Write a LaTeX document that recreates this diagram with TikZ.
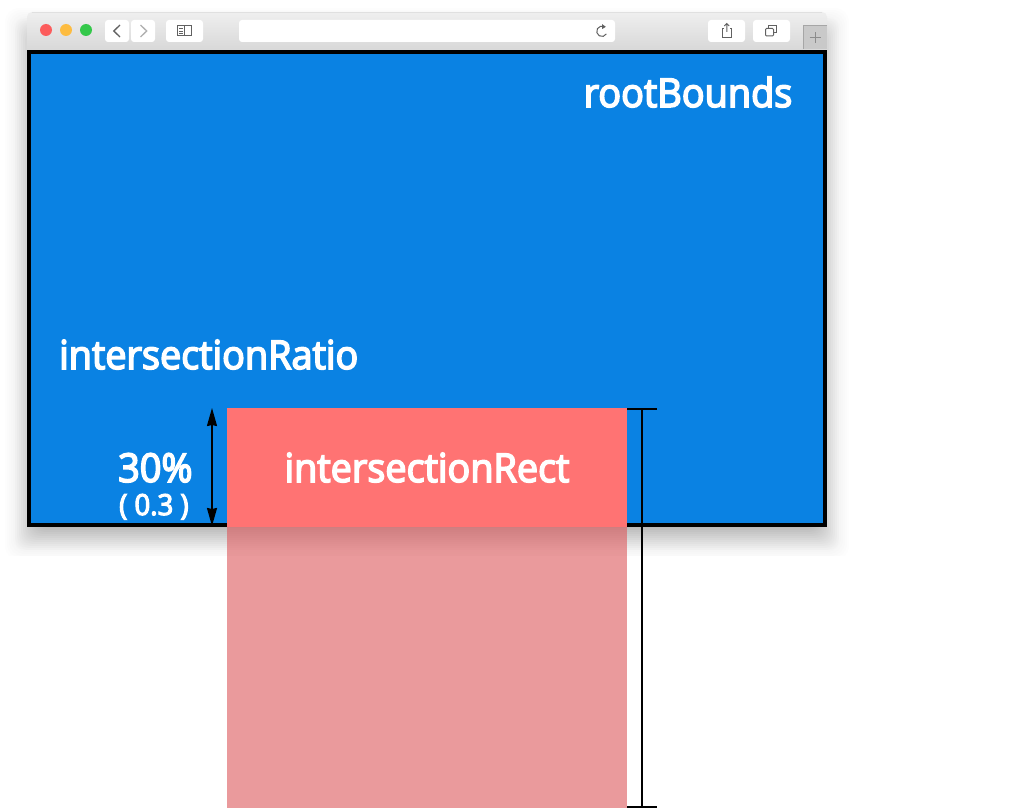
\documentclass[tikz,border=0pt]{standalone}
\usepackage{fontspec}
\newfontfamily\lab{Open Sans}[FakeBold=4,FakeStretch=0.95]
\usetikzlibrary{arrows.meta}
\definecolor{blue0}{HTML}{0A82E3}
\definecolor{redtop}{HTML}{FF7373}
\definecolor{pinklow}{HTML}{DC575A}
\definecolor{barT}{HTML}{EFEFEF}
\definecolor{barB}{HTML}{D2D2D2}
\definecolor{icon}{HTML}{616161}
\definecolor{lightred}{HTML}{FC5C5C}
\definecolor{lightyel}{HTML}{FDBC40}
\definecolor{lightgrn}{HTML}{34C84A}
\definecolor{plusbg}{HTML}{C9C9C9}
\tikzset{
  btn/.style={fill=white,draw=none,rounded corners=3pt},
  ico/.style={draw=icon,line width=1pt,fill=none},
  icol/.style={draw=icon!50,line width=1pt,fill=none},
  dot/.style={circle,minimum size=12pt,inner sep=0pt,draw=none,fill=#1},
  lbl/.style={text=white,inner sep=0pt,font=\lab},
  dimline/.style={draw=black,line width=2pt},
  ratioarrow/.style={draw=black,line width=1.7pt,{Stealth[length=18pt,width=10pt,inset=1pt]}-{Stealth[length=18pt,width=10pt,inset=1pt]}}
}
\begin{document}
\begin{tikzpicture}[x=1pt,y=-1pt]
\useasboundingbox (0,0) rectangle (1018,808);
\fill[white] (0,0) rectangle (1018,808);
% shadow
\begin{scope}
\clip (0,0) rectangle (1018,555);
\foreach \d in {-22,-20,...,22}{
  \fill[black,opacity=0.007,rounded corners=14pt] ({27-\d},{30-\d}) rectangle ({827+\d},{538+\d});
}
\foreach \d in {-12,-10,...,12}{
  \fill[black,opacity=0.010,rounded corners=10pt] ({27-\d},{30-\d}) rectangle ({827+\d},{538+\d});
}
\end{scope}
% title bar
\shade[top color=barT,bottom color=barB,rounded corners=5pt] (27,12) -- (827,12) -- (827,60) -- (27,60) -- cycle;
\draw[white!88!black,line width=.7pt] (32,12.4) -- (822,12.4);
% window
\node[draw=black,line width=4pt,fill=blue0,minimum width=796pt,minimum height=473pt,inner sep=0pt,outer sep=0pt,anchor=center] (win) at (427,288.5) {};
% lower and upper red
\node[fill=pinklow,opacity=.6,minimum width=400pt,minimum height=281pt,inner sep=0pt,outer sep=0pt,anchor=north west] (low) at (227,527) {};
\node[fill=redtop,minimum width=400pt,minimum height=119pt,inner sep=0pt,outer sep=0pt,anchor=north west] (rect) at (227,408) {};
% traffic lights
\node[dot=lightred] (tl1) at (46,30) {};
\node[dot=lightyel] (tl2) at (66,30) {};
\node[dot=lightgrn] (tl3) at (86,30) {};
% toolbar buttons
\fill[btn] (105,20) rectangle (129,42);
\fill[btn] (131,20) rectangle (155,42);
\fill[btn] (166,20) rectangle (203,42);
\fill[btn] (239,20) rectangle (615,42);
\fill[btn] (708,20) rectangle (745,42);
\fill[btn] (753,20) rectangle (790,42);
% back / forward
\draw[ico,line width=1.3pt] (120,25) -- (113.8,31) -- (120,37);
\draw[icol,line width=1.3pt] (140.5,25) -- (146.7,31) -- (140.5,37);
% sidebar
\draw[ico] (177.5,26) rectangle (191.5,36);
\draw[ico] (184.3,26) -- (184.3,36);
\draw[ico,line width=.8pt] (179,28.5) -- (182.5,28.5) (179,31) -- (182.5,31) (179,33.5) -- (182.5,33.5);
% reload
\draw[ico] (604.5,26.8) arc (-60:-390+60:5.2);
\fill[icon] (602.2,24.2) -- (605.8,26.8) -- (602.2,29) -- cycle;
% share
\draw[ico] (724,28.5) -- (722,28.5) -- (722,37.5) -- (731.5,37.5) -- (731.5,28.5) -- (729.5,28.5);
\draw[ico] (726.75,32) -- (726.75,23.5) (724.3,26) -- (726.75,23.5) -- (729.2,26);
% tabs
\draw[ico] (768,28) -- (768,25.5) -- (776.5,25.5) -- (776.5,33) -- (774,33);
\draw[ico,rounded corners=1pt] (765.5,28.5) rectangle (773.5,36);
% new tab
\fill[plusbg] (803,25) rectangle (827,49);
\draw[draw=black!35,line width=.8pt] (803.4,49) -- (803.4,25.4) -- (827,25.4);
\draw[draw=black!45,line width=.8pt] (815,32.2) -- (815,43.2) (809.5,37.7) -- (820.5,37.7);
% labels
\node[lbl,font=\lab\fontsize{39.8}{40}\selectfont,anchor=base east] (root) at (792.5,107) {rootBounds};
\node[lbl,font=\lab\fontsize{39.8}{40}\selectfont,anchor=base west] (ratio) at (59,369) {intersectionRatio};
\node[lbl,font=\lab\fontsize{39.8}{40}\selectfont,anchor=base] (rectlabel) at (427,482) {intersectionRect};
\node[lbl,font=\lab\fontsize{39.8}{40}\selectfont,anchor=base west] (pct) at (118,482) {30\%};
\node[lbl,font=\lab\fontsize{29}{29}\selectfont,anchor=base west] (dec) at (119,515) {( 0.3 )};
% ratio arrow
\coordinate (ra) at (212,408);
\coordinate (rb) at (212,526);
\draw[ratioarrow] (ra) -- (rb);
% bracket
\coordinate (t1) at (627,409);
\coordinate (t2) at (657,409);
\coordinate (tm) at (642,409);
\coordinate (b1) at (627,807);
\coordinate (b2) at (657,807);
\coordinate (bm) at (642,807);
\draw[dimline] (t1) -- (t2);
\draw[dimline] (b1) -- (b2);
\draw[dimline] (tm) -- (bm);
\end{tikzpicture}
\end{document}
